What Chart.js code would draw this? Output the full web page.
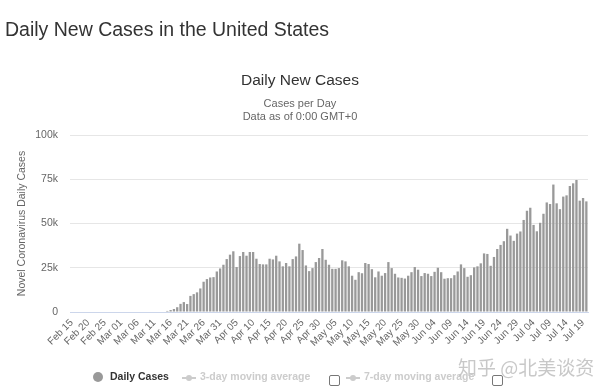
<!DOCTYPE html>
<html>
<head>
<meta charset="utf-8">
<script src="https://cdn.jsdelivr.net/npm/chart.js@4.4.0/dist/chart.umd.min.js"></script>
<style>
  body { margin: 0; background: #fff; font-family: "Liberation Sans", Arial, sans-serif; }
  #wrap { position: relative; width: 600px; height: 389px; overflow: hidden; }
  #chart { position: absolute; left: 0; top: 0; }
  .txt { position: absolute; white-space: nowrap; }
  #pageTitle { left: 5px; top: 18px; font-size: 19.5px; color: #333; }
  #chartTitle { left: 0; width: 600px; text-align: center; top: 71px; font-size: 15.5px; color: #333; }
  #sub1, #sub2 { left: 0; width: 600px; text-align: center; font-size: 11px; color: #666; }
  #sub1 { top: 97px; }
  #sub2 { top: 110px; }
  .leg { position: absolute; top: 370px; font-size: 10.5px; font-weight: bold; white-space: nowrap; }
  .dot { position: absolute; width: 10px; height: 10px; border-radius: 50%; background: #999; }
  .lsym { position: absolute; width: 14px; height: 2px; background: #ccc; }
  .lsym::after { content: ""; position: absolute; left: 4px; top: -2px; width: 6px; height: 6px; border-radius: 50%; background: #ccc; }
  .box { position: absolute; width: 9px; height: 9px; border: 1px solid #777; border-radius: 2px; background: #fff; }
  #mark { position: absolute; left: 458px; top: 353px; font-family: "Noto Sans CJK SC", sans-serif; font-size: 19px; color: rgba(190,190,190,0.85); white-space: nowrap; }
</style>
</head>
<body>
<div id="wrap">
  <canvas id="chart" width="600" height="389"></canvas>
  <div class="txt" id="pageTitle">Daily New Cases in the United States</div>
  <div class="txt" id="chartTitle">Daily New Cases</div>
  <div class="txt" id="sub1">Cases per Day</div>
  <div class="txt" id="sub2">Data as of 0:00 GMT+0</div>

  <div class="dot" style="left:93px; top:372px;"></div>
  <div class="leg" style="left:110px; color:#333;">Daily Cases</div>
  <div class="lsym" style="left:182px; top:377px;"></div>
  <div class="leg" style="left:200px; color:#ccc;">3-day moving average</div>
  <div class="box" style="left:329px; top:375px;"></div>
  <div class="lsym" style="left:346px; top:377px;"></div>
  <div class="leg" style="left:364px; color:#ccc;">7-day moving average</div>
  <div class="box" style="left:492px; top:375px;"></div>
  <div id="mark">知乎 @北美谈资</div>
</div>

<script>
// categories: Feb 15 .. Jul 20 (2020)
const months = [['Feb', 15, 29], ['Mar', 1, 31], ['Apr', 1, 30], ['May', 1, 31], ['Jun', 1, 30], ['Jul', 1, 20]];
const dates = [];
months.forEach(([m, from, to]) => {
  for (let d = from; d <= to; d++) dates.push(m + ' ' + String(d).padStart(2, '0'));
});

// daily new cases, thousands
const febCases = [0, 0, 0, 0, 0, 0, 0, 0, 0, 0, 0, 0, 0, 0, 0];
const marCases = [0, 0, 0, 0, 0, 0, 0, 0, 0, 0, 0, 0, 0, 0,
  0.6, 1.1, 1.7, 2.7, 4.6, 5.6, 4.5, 9.1, 10.1, 11.1, 13.3, 17.1, 18.6, 19.5, 19.7, 22.9, 24.6];
const aprCases = [26.7, 29.9, 32.4, 34.3, 25.4, 31.6, 33.9, 31.8, 33.9, 33.9,
  30.1, 27.1, 26.9, 26.9, 30.1, 29.7, 31.8, 28.6, 25.8, 27.7,
  25.8, 29.9, 31.4, 38.6, 35.0, 26.3, 23.1, 24.8, 28.2, 30.5];
const mayCases = [35.6, 29.5, 26.7, 24.4, 24.4, 24.8, 29.2, 28.6, 25.8, 20.5,
  18.2, 22.5, 21.9, 27.7, 27.1, 24.2, 19.6, 22.9, 20.5, 22.0,
  28.2, 24.8, 21.6, 19.5, 19.3, 18.9, 20.5, 22.5, 25.4, 23.9, 20.3];
const junCases = [22.0, 21.6, 20.3, 22.7, 25.0, 22.5, 18.8, 19.1, 19.1, 20.8,
  22.9, 26.9, 24.8, 19.9, 20.8, 25.2, 25.8, 27.5, 33.1, 32.8,
  26.1, 31.1, 35.6, 37.9, 40.0, 47.0, 43.2, 40.2, 44.3, 45.5];
const julCases = [52.0, 57.2, 58.9, 49.2, 45.6, 50.4, 55.5, 61.9, 61.0, 72.0,
  61.4, 58.1, 65.2, 65.9, 71.2, 72.7, 74.6, 62.9, 64.4, 62.5];
const dailyCases = [...febCases, ...marCases, ...aprCases, ...mayCases, ...junCases, ...julCases];

const yTicks = [0, 25, 50, 75, 100];

new Chart(document.getElementById('chart'), {
  type: 'bar',
  data: {
    labels: dates,
    datasets: [{
      label: 'Daily Cases',
      data: dailyCases,
      backgroundColor: '#999999',
      barPercentage: 0.7,
      categoryPercentage: 1
    }]
  },
  options: {
    responsive: false,
    animation: false,
    layout: { padding: { top: 135, left: 12, right: 12, bottom: 0 } },
    plugins: { legend: { display: false }, tooltip: { enabled: false }, title: { display: false } },
    scales: {
      x: {
        grid: { display: false, drawTicks: false },
        border: { color: '#ccd6eb' },
        ticks: {
          autoSkip: false,
          minRotation: 45,
          maxRotation: 45,
          padding: 5,
          color: '#666',
          font: { family: 'Liberation Sans', size: 10 },
          callback: (v, i) => (i % 5 === 0 ? dates[i] : '')
        },
        afterFit: s => { s.height = 77; }
      },
      y: {
        min: 0,
        max: 100,
        grid: { color: '#e6e6e6', drawTicks: false },
        border: { display: false },
        afterBuildTicks: s => { s.ticks = yTicks.map(v => ({ value: v })); },
        ticks: {
          padding: 12,
          color: '#666',
          font: { family: 'Liberation Sans', size: 10.5 },
          callback: v => (v === 0 ? '0' : v + 'k')
        },
        title: {
          display: true,
          text: 'Novel Coronavirus Daily Cases',
          color: '#666',
          font: { family: 'Liberation Sans', size: 10.5 },
          padding: { top: 4, bottom: 4 }
        },
        afterFit: s => { s.width = 58; }
      }
    }
  }
});
</script>
</body>
</html>
